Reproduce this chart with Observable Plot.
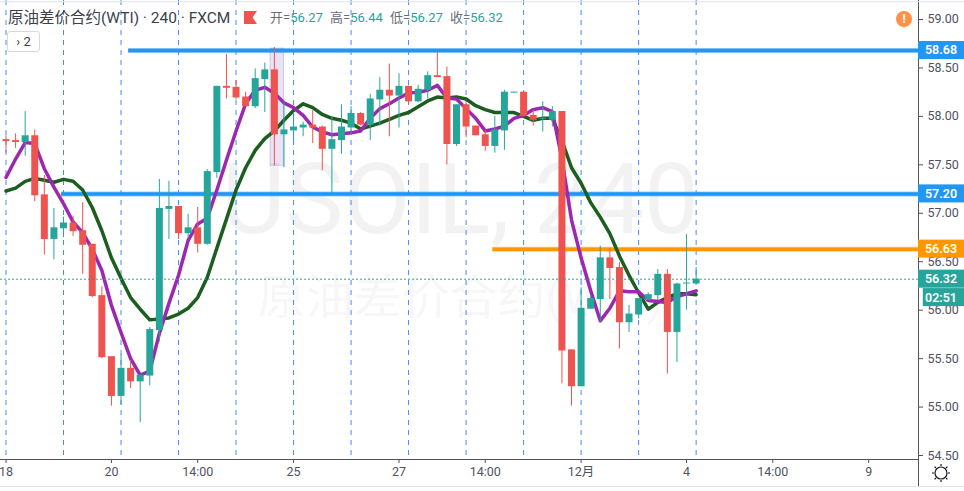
<!DOCTYPE html>
<html><head><meta charset="utf-8">
<script src="https://cdn.jsdelivr.net/npm/d3@7"></script>
<script src="https://cdn.jsdelivr.net/npm/@observablehq/plot@0.6"></script>
<style>
html,body{margin:0;padding:0;background:#fff;overflow:hidden}
#wrap{position:relative;width:964px;height:491px;font-family:Roboto,"Noto Sans CJK SC",sans-serif}
.ov{position:absolute;white-space:nowrap}
</style></head><body><div id="wrap"></div>
<script>
const opens=[57.76,57.75,57.73,57.80,57.19,56.73,56.84,56.90,56.82,56.68,56.15,55.52,55.11,55.40,55.26,55.32,55.79,57.04,57.07,56.79,56.85,56.68,57.42,58.31,58.30,58.20,58.10,58.38,58.48,57.81,57.85,57.88,57.91,57.89,57.66,57.75,57.88,58.03,57.91,58.17,58.27,58.21,58.31,58.15,58.27,58.42,58.41,57.71,58.12,57.90,57.81,57.69,57.85,58.24,58.25,58.01,57.97,57.96,58.05,55.59,55.21,56.01,56.11,56.54,56.44,55.87,55.95,56.10,56.15,56.37,55.77,56.27,56.27];
const highs=[57.80,57.82,58.05,57.86,57.39,57.05,56.96,56.97,57.11,56.68,56.24,55.52,55.54,55.48,55.33,55.82,57.35,57.33,57.07,56.99,57.06,57.45,58.31,58.64,58.37,58.25,58.49,58.55,58.71,58.16,58.04,57.94,58.06,57.90,58.00,58.12,58.10,58.04,58.23,58.40,58.54,58.44,58.31,58.32,58.46,58.66,58.51,58.12,58.12,57.90,57.86,58.00,58.27,58.25,58.25,58.06,58.15,58.10,58.05,55.59,56.23,56.14,56.66,56.64,56.49,56.05,56.12,56.18,56.42,56.42,56.28,56.78,56.44];
const lows=[57.62,57.67,57.59,57.12,56.57,56.52,56.75,56.76,56.37,56.13,55.50,55.01,55.02,55.19,54.84,55.22,55.67,56.73,56.73,56.74,56.59,56.67,57.36,58.18,58.17,58.10,58.08,58.04,57.49,57.47,57.74,57.79,57.72,57.44,57.19,57.61,57.81,57.90,57.75,57.90,57.79,57.88,58.12,58.14,58.18,58.40,57.50,57.69,57.78,57.80,57.64,57.62,57.65,58.24,58.00,57.90,57.84,57.89,55.24,55.01,55.21,56.01,55.87,56.11,55.60,55.77,55.91,56.10,56.10,55.34,55.46,56.00,56.27];
const closes=[57.74,57.73,57.80,57.18,56.73,56.85,56.90,56.81,56.67,56.14,55.51,55.11,55.40,55.26,55.33,55.80,57.05,57.07,56.79,56.85,56.68,57.43,58.31,58.29,58.19,58.10,58.39,58.48,57.81,57.86,57.89,57.91,57.88,57.66,57.76,57.89,58.03,57.91,58.18,58.27,58.21,58.31,58.15,58.28,58.42,58.40,57.71,58.12,57.89,57.80,57.69,57.86,58.25,58.25,58.00,57.96,57.98,58.05,55.58,55.21,56.02,56.12,56.54,56.43,55.87,55.96,56.12,56.16,56.37,55.77,56.27,56.28,56.32];
const maFast=[57.37,57.56,57.73,57.72,57.46,57.27,57.10,56.91,56.80,56.63,56.41,56.05,55.77,55.50,55.33,55.37,55.76,56.07,56.36,56.72,56.89,56.95,57.24,57.55,57.85,58.13,58.27,58.30,58.24,58.14,58.09,58.01,57.89,57.84,57.81,57.82,57.83,57.85,57.98,58.08,58.13,58.19,58.24,58.25,58.27,58.32,58.19,58.18,58.08,57.98,57.85,57.87,57.90,57.98,58.01,58.07,58.09,58.05,57.56,56.93,56.54,56.20,55.89,56.02,56.20,56.19,56.19,56.10,56.09,56.08,56.14,56.17,56.20];
const maSlow=[57.23,57.26,57.33,57.36,57.34,57.32,57.35,57.33,57.24,57.06,56.82,56.54,56.33,56.13,56.01,55.90,55.91,55.92,55.96,56.02,56.13,56.34,56.64,56.94,57.24,57.47,57.65,57.77,57.85,57.96,58.06,58.13,58.09,58.02,57.98,57.96,57.93,57.87,57.90,57.93,57.97,58.01,58.04,58.10,58.16,58.20,58.19,58.20,58.18,58.11,58.07,58.04,58.04,58.04,58.00,57.96,57.98,57.98,57.75,57.47,57.31,57.11,56.96,56.79,56.56,56.36,56.18,56.01,56.08,56.13,56.17,56.17,56.16];
const vLines=[0,6,12,18,24,30,36,42,48,54,60,66,72];
const xTicks=[0,11,20,30,41,50,60,71,80,90];
const xLabels=["18","20","14:00","25","27","14:00","12月","4","14:00","9"];
const yTicks=[59,58.5,58,57.5,57,56.5,56,55.5,55,54.5];
const levelPrices=[58.68,57.20,56.63];
const levelStarts=[12.8,5.8,50.8];
const levelColors=["#2196f3","#2196f3","#ff9800"];
const lastPrice=56.32;
const countdown="02:51";
const quoteLabels=["开=","高=","低=","收="];
const quoteValues=["56.27","56.44","56.27","56.32"];
const quoteLefts=[270,330,390,450];

const xMin=-0.574,xMax=95.2,xEnd=100,yMin=54.459,yMax=59.196,yBottom=54.18;
const idx=d3.range(opens.length);
const up=i=>closes[i]>=opens[i];
const col=i=>up(i)?"#26a69a":"#ef5350";
const tags=[
 ...levelPrices.map((p,i)=>({p,h:.093,x1:xMax,label:p.toFixed(2),c:levelColors[i]})),
 {p:lastPrice,h:.093,x1:xMax,label:lastPrice.toFixed(2),c:"#26a69a"},
 {p:lastPrice-.19,h:.093,x1:xMax+.5,label:countdown,c:"#26a69a"}
];
const levels=levelPrices.map((p,i)=>({p,s:levelStarts[i],c:levelColors[i]}));
const font="Roboto,'Noto Sans CJK SC',sans-serif";
const chart=Plot.plot({
 width:964,height:491,marginLeft:0,marginRight:46,marginTop:0,marginBottom:32,
 style:{background:"#fff",fontFamily:font,fontSize:"12px",overflow:"visible"},
 x:{domain:[xMin,xMax],axis:null},
 y:{domain:[yMin,yMax],axis:null},
 marks:[
  Plot.text(["USOIL, 240"],{x:()=>47.4,y:()=>57.12,text:d=>d,fontSize:98,fill:"#000",fillOpacity:.05,textAnchor:"middle",fontFamily:font}),
  Plot.text(["原油差价合约(WTI)"],{x:()=>47.4,y:()=>56.12,text:d=>d,fontSize:48,fill:"#000",fillOpacity:.05,textAnchor:"middle",fontFamily:font}),
  Plot.ruleX(vLines,{x:d=>d,stroke:"#448aff",strokeWidth:1,strokeDasharray:"5 5"}),
  Plot.rect([0],{x1:()=>27.6,x2:()=>29,y1:()=>58.70,y2:()=>57.49,fill:"#9575cd",fillOpacity:.2,stroke:"#9575cd",strokeOpacity:.35}),
  Plot.ruleY(levels,{y:"p",x1:"s",x2:()=>xMax,stroke:"c",strokeWidth:5,strokeOpacity:.45}),
  Plot.ruleY(levels,{y:"p",x1:"s",x2:()=>xMax,stroke:"c",strokeWidth:3.5}),
  Plot.line(maSlow,{x:(d,i)=>i,y:d=>d,stroke:"#1b5e20",strokeWidth:3.5,curve:"linear"}),
  Plot.line(maFast,{x:(d,i)=>i,y:d=>d,stroke:"#9c27b0",strokeWidth:3.5,curve:"linear"}),
  Plot.ruleX(idx,{x:d=>d,y1:i=>lows[i],y2:i=>highs[i],stroke:col,strokeWidth:1}),
  Plot.ruleX(idx,{x:d=>d,y1:i=>opens[i],y2:i=>closes[i],stroke:col,strokeWidth:7}),
  Plot.ruleY([lastPrice],{x1:()=>xMin,x2:()=>xMax,stroke:"#26a69a",strokeWidth:1,strokeDasharray:"2 2"}),
  Plot.ruleX([xMax],{y1:()=>yMax,y2:()=>yBottom,stroke:"#50535e",strokeWidth:1}),
  Plot.ruleY([yMin],{x1:()=>xMin,x2:()=>xMax,stroke:"#50535e",strokeWidth:1}),
  Plot.ruleY([yBottom],{x1:()=>xMin,x2:()=>xEnd,stroke:"#e0e3eb",strokeWidth:1}),
  Plot.ruleY([yMax-.012],{x1:()=>xMin,x2:()=>xEnd,stroke:"#e0e3eb",strokeWidth:1}),
  Plot.axisY(yTicks,{anchor:"right",tickSize:4,tickPadding:5,color:"#50535e",tickFormat:d=>d.toFixed(2),fontSize:12.5,label:null}),
  Plot.axisX(xTicks,{anchor:"bottom",tickSize:4,tickPadding:4,color:"#50535e",tickFormat:(d)=>xLabels[xTicks.indexOf(d)],fontSize:12.5,label:null}),
  Plot.rect(tags,{x1:"x1",x2:()=>xEnd,y1:d=>d.p-d.h,y2:d=>d.p+d.h,fill:"c"}),
  Plot.text(tags,{x:()=>97.55,y:"p",text:"label",fill:"#fff",fontSize:12.5,fontWeight:600,textAnchor:"middle"})
 ]
});
const wrap=document.getElementById("wrap");
wrap.appendChild(chart);
function ov(html,style){const d=document.createElement("div");d.className="ov";d.style.cssText=style;d.innerHTML=html;wrap.appendChild(d);return d;}
ov("原油差价合约(WTI) · 240 · FXCM","left:8px;top:8px;font-size:15.5px;color:#3c3f4a;line-height:20px");
ov('<svg width="13" height="13"><polygon points="0,0 13,0 8.5,6.5 13,13 0,13" fill="#ef5350"/></svg>',"left:244px;top:11px;line-height:0");
quoteLabels.forEach((l,i)=>ov(`<span style="color:#6a6d78">${l}</span><span style="color:#26a69a">${quoteValues[i]}</span>`,`left:${quoteLefts[i]}px;top:8px;font-size:13px;line-height:20px`));
ov("› 2","left:7px;top:31px;width:31px;height:19px;border:1px solid #d6d8e0;border-radius:3px;font-size:13px;line-height:19px;text-align:center;color:#3c3f4a;background:#fff");
ov("!","left:896px;top:11px;width:16px;height:16px;border-radius:8px;background:#ff9147;color:#fff;font-size:12px;font-weight:700;line-height:16px;text-align:center");
ov('<svg width="22" height="22" viewBox="-11 -11 22 22"><circle r="6" fill="none" stroke="#131722" stroke-width="1.2"/><path d="M0-9V-7M0 9V7M-9 0H-7M9 0H7M-6.4-6.4L-5-5M6.4 6.4L5 5M-6.4 6.4L-5 5M6.4-6.4L5-5" stroke="#131722" stroke-width="1.2"/></svg>',"left:930px;top:462px;line-height:0");
</script></body></html>
